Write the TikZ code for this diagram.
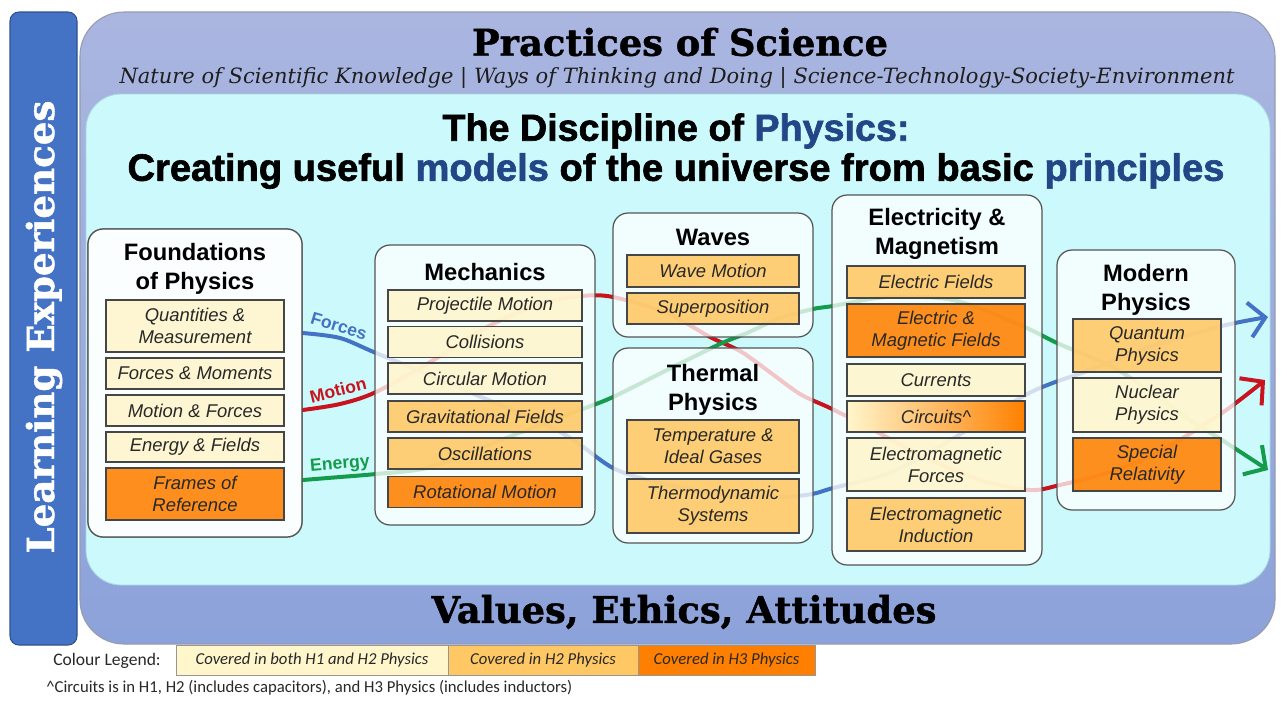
\documentclass[tikz,border=0pt]{standalone}
\usepackage{fontspec}
\setmainfont{Liberation Sans}
\newfontfamily\slabfont{DejaVu Serif}
\newfontfamily\slabheavy{DejaVu Serif}[FakeBold=1.2]
\newfontfamily\calfont{Carlito}
\newfontfamily\heavyfont{Liberation Sans}[FakeBold=1.6]
\usetikzlibrary{arrows.meta}
\definecolor{barBlue}{RGB}{68,114,196}
\definecolor{barEdge}{RGB}{47,82,143}
\definecolor{outerTop}{RGB}{170,182,224}
\definecolor{outerBot}{RGB}{140,162,218}
\definecolor{outerEdge}{RGB}{150,155,175}
\definecolor{cyanBg}{RGB}{204,250,252}
\definecolor{cyanEdge}{RGB}{170,215,225}
\definecolor{panelEdge}{RGB}{85,85,85}
\definecolor{itemEdge}{RGB}{70,70,70}
\definecolor{itemText}{RGB}{40,40,40}
\definecolor{cLight}{RGB}{255,246,204}
\definecolor{cMid}{RGB}{255,200,100}
\definecolor{cOrange}{RGB}{255,128,0}
\definecolor{physBlue}{RGB}{35,70,135}
\definecolor{fBlue}{RGB}{68,114,196}
\definecolor{fRed}{RGB}{200,20,30}
\definecolor{fGreen}{RGB}{20,155,75}
\definecolor{legEdge}{RGB}{150,150,150}
\begin{document}
\begin{tikzpicture}[x=0.02cm,y=-0.02cm,
  panel/.style={draw=panelEdge, line width=0.7pt, fill=white, fill opacity=0.76, text opacity=1, rounded corners=0.3cm, inner sep=0},
  ptitle/.style={font=\fontsize{13.5}{16.5}\selectfont\bfseries, align=center, text=black},
  itm/.style={draw=itemEdge, line width=0.9pt, fill opacity=0.88, text opacity=1, inner sep=0, align=center, font=\fontsize{10.5}{12.5}\selectfont\itshape, text=itemText},
  flow/.style={line width=0.08cm, line cap=round},
  flowlabel/.style={font=\fontsize{10}{12}\selectfont\bfseries},
  leg/.style={draw=legEdge, line width=0.5pt, inner sep=0, minimum height=0.6cm, font=\calfont\fontsize{9.5}{11}\selectfont\itshape, text=itemText},
  tip/.style={-{Straight Barb[length=0.32cm,width=0.7cm]}}
]
\useasboundingbox (0,0) rectangle (1287,704);
\fill[white] (0,0) rectangle (1287,704);

% outer frames
\draw[outerEdge, line width=0.6pt, top color=outerTop, bottom color=outerBot, rounded corners=0.88cm] (80,12) rectangle (1275,644);
\draw[barEdge, line width=0.6pt, fill=barBlue, rounded corners=0.18cm] (10,12) rectangle (77,645);
\node[rotate=90, text=white] (le) at (44,327) {\resizebox{9.06cm}{!}{\slabheavy\bfseries Learning Experiences}};
\draw[cyanEdge, line width=0.5pt, fill=cyanBg, rounded corners=0.7cm] (86,94) rectangle (1270,585);

% headings
\node (ps) at (680,42) {\resizebox{8.32cm}{!}{\slabheavy\bfseries Practices of Science}};
\node[text={rgb,255:red,30;green,30;blue,30}] (sub) at (677,78) {\resizebox{22.3cm}{!}{\slabfont\itshape Nature of Scientific Knowledge | Ways of Thinking and Doing | Science-Technology-Society-Environment}};
\node (t1) at (676,131) {\resizebox{9.34cm}{!}{\heavyfont\bfseries The Discipline of \textcolor{physBlue}{Physics:}}};
\node (t2) at (676,171) {\resizebox{21.94cm}{!}{\heavyfont\bfseries Creating useful \textcolor{physBlue}{models} of the universe from basic \textcolor{physBlue}{principles}}};
\node (vea) at (684,612) {\resizebox{10.1cm}{!}{\slabheavy\bfseries Values, Ethics, Attitudes}};

% panel used as the start of the flows
\node[panel, minimum width=4.28cm, minimum height=6.16cm] (found) at (195,383) {};
\coordinate (blueEnd) at (1268,317);
\coordinate (redEnd) at (1265,380);
\coordinate (greenEnd) at (1268,470);

% flows
\draw[flow, fBlue, tip] plot[smooth, tension=0.5] coordinates {(found.east |- 0,333) (340,338) (376,353) (460,388) (560,432) (613,468) (660,483) (720,494) (780,497) (812,494) (833,488) (887,474) (937,448) (1020,398) (1050,384) (1090,370) (1140,350) (1222,326) (blueEnd)};
\draw[flow, fRed, tip] plot[smooth, tension=0.5] coordinates {(found.east |- 0,410) (340,404) (376,392) (437,358) (487,327) (540,304) (582,296) (613,297) (667,313) (710,337) (740,351) (767,370) (800,394) (830,408) (870,428) (920,455) (980,480) (1030,490) (1060,485) (1107,473) (1157,453) (1222,413) (redEnd)};
\draw[flow, fGreen, tip] plot[smooth, tension=0.5] coordinates {(found.east |- 0,480) (340,477) (376,474) (427,468) (477,449) (527,430) (580,410) (613,397) (667,370) (720,344) (747,333) (780,318) (813,309) (833,306) (887,297) (953,300) (1020,325) (1057,343) (1090,357) (1123,373) (1190,420) (1222,440) (greenEnd)};

\node[flowlabel, text=fBlue, rotate=-17] (lforces) at (339,326) {Forces};
\node[flowlabel, text=fRed, rotate=14] (lmotion) at (338,390) {Motion};
\node[flowlabel, text=fGreen, rotate=5] (lenergy) at (340,465) {Energy};

% panels over the flows
\node[panel, minimum width=4.28cm, minimum height=6.16cm] (found2) at (195,383) {};
\node[panel, minimum width=4.4cm, minimum height=5.6cm] (mech) at (485,385) {};
\node[panel, minimum width=4.0cm, minimum height=2.48cm] (waves) at (713,275) {};
\node[panel, minimum width=4.0cm, minimum height=3.9cm] (therm) at (713,445.5) {};
\node[panel, minimum width=4.2cm, minimum height=7.4cm] (em) at (937,380) {};
\node[panel, minimum width=3.56cm, minimum height=5.2cm] (modern) at (1146,380) {};

% titles
\node[ptitle] (tfound) at (195,269) {Foundations\\of Physics};
\node[ptitle] (tmech) at (485,272) {Mechanics};
\node[ptitle] (twaves) at (713,237) {Waves};
\node[ptitle] (ttherm) at (713,390) {Thermal\\Physics};
\node[ptitle] (tem) at (937,234) {Electricity \&\\Magnetism};
\node[ptitle] (tmod) at (1146,289.5) {Modern\\Physics};

% foundations items
\node[itm, fill=cLight, minimum width=3.56cm, minimum height=1.04cm] (qm) at (195,326) {Quantities \&\\Measurement};
\node[itm, fill=cLight, minimum width=3.56cm, minimum height=0.62cm] (fm) at (195,373.5) {Forces \& Moments};
\node[itm, fill=cLight, minimum width=3.56cm, minimum height=0.62cm] (mf) at (195,410.5) {Motion \& Forces};
\node[itm, fill=cLight, minimum width=3.56cm, minimum height=0.6cm] (ef) at (195,447) {Energy \& Fields};
\node[itm, fill=cOrange, minimum width=3.56cm, minimum height=1.04cm] (fr) at (195,494) {Frames of\\Reference};

% mechanics items
\node[itm, fill=cLight, minimum width=3.88cm, minimum height=0.62cm] (pm) at (485,305.5) {Projectile Motion};
\node[itm, fill=cLight, minimum width=3.88cm, minimum height=0.62cm] (col) at (485,342) {Collisions};
\node[itm, fill=cLight, minimum width=3.88cm, minimum height=0.62cm] (cm) at (485,378.5) {Circular Motion};
\node[itm, fill=cMid, minimum width=3.88cm, minimum height=0.62cm] (gf) at (485,416.5) {Gravitational Fields};
\node[itm, fill=cMid, minimum width=3.88cm, minimum height=0.62cm] (osc) at (485,453.5) {Oscillations};
\node[itm, fill=cOrange, minimum width=3.88cm, minimum height=0.62cm] (rot) at (485,492) {Rotational Motion};

% waves and thermal items
\node[itm, fill=cMid, minimum width=3.44cm, minimum height=0.64cm] (wm) at (713,271) {Wave Motion};
\node[itm, fill=cMid, minimum width=3.44cm, minimum height=0.62cm] (sp) at (713,308.5) {Superposition};
\node[itm, fill=cMid, minimum width=3.44cm, minimum height=1.06cm] (tig) at (713,446.5) {Temperature \&\\Ideal Gases};
\node[itm, fill=cMid, minimum width=3.44cm, minimum height=1.08cm] (tds) at (713,506) {Thermodynamic\\Systems};

% E&M items
\node[itm, fill=cMid, minimum width=3.56cm, minimum height=0.64cm] (efl) at (936,282) {Electric Fields};
\node[itm, fill=cOrange, minimum width=3.56cm, minimum height=1.06cm] (emf) at (936,330.5) {Electric \&\\Magnetic Fields};
\node[itm, fill=cLight, minimum width=3.56cm, minimum height=0.64cm] (cur) at (936,380) {Currents};
\node[itm, left color=cLight, middle color=cMid, right color=cOrange, fill opacity=1, minimum width=3.56cm, minimum height=0.62cm] (cir) at (936,416.5) {Circuits\textasciicircum};
\node[itm, fill=cLight, minimum width=3.56cm, minimum height=1.06cm] (emfo) at (936,464.5) {Electromagnetic\\Forces};
\node[itm, fill=cMid, minimum width=3.56cm, minimum height=1.06cm] (emi) at (936,524.5) {Electromagnetic\\Induction};

% modern items
\node[itm, fill=cMid, minimum width=2.96cm, minimum height=1.06cm] (qp) at (1147,345.5) {Quantum\\Physics};
\node[itm, fill=cLight, minimum width=2.96cm, minimum height=1.08cm] (np) at (1147,405) {Nuclear\\Physics};
\node[itm, fill=cOrange, minimum width=2.96cm, minimum height=1.06cm] (sr) at (1147,464.5) {Special\\Relativity};

% legend
\node[font=\calfont\fontsize{10}{12}\selectfont, text=itemText] (cl) at (107,661) {Colour Legend:};
\node[leg, fill=cLight, minimum width=5.44cm] (l1) at (312,660) {Covered in both H1 and H2 Physics};
\node[leg, fill=cMid, minimum width=3.8cm] (l2) at (543,660) {Covered in H2 Physics};
\node[leg, fill=cOrange, minimum width=3.54cm] (l3) at (726.5,660) {Covered in H3 Physics};
\node[anchor=west, font=\calfont\fontsize{9.5}{11}\selectfont, text=itemText, inner sep=0] (fn) at (46,688) {\textasciicircum Circuits is in H1, H2 (includes capacitors), and H3 Physics (includes inductors)};
\end{tikzpicture}
\end{document}
